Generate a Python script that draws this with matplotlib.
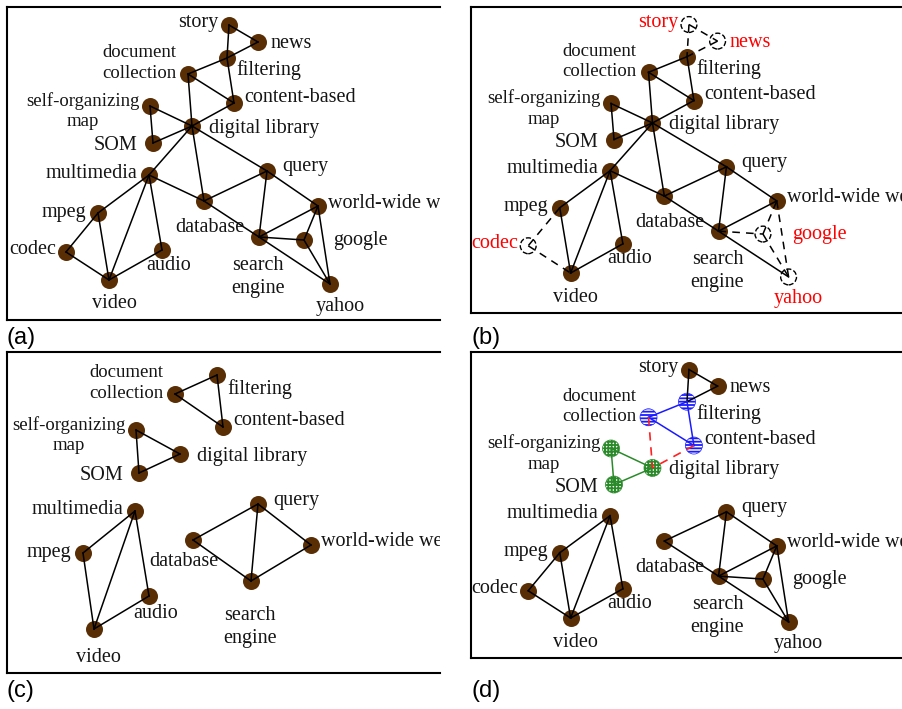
import matplotlib.pyplot as plt
from matplotlib.transforms import ScaledTranslation

W, H = 902, 709

# node layout used by panels (a), (b) and (d), pixels inside the frame
nodes = ['story', 'news', 'filtering', 'document collection', 'content-based',
         'self-organizing map', 'digital library', 'SOM', 'multimedia', 'query',
         'database', 'world-wide web', 'mpeg', 'search engine', 'google',
         'codec', 'audio', 'video', 'yahoo']
node_x = [222, 251, 220, 181, 227, 143, 185, 146, 142, 260, 197, 311, 91, 252, 297, 59, 155, 102, 323]
node_y = [18, 35, 51, 67, 96, 99, 119, 136, 168, 164, 194, 199, 206, 230, 233, 245, 243, 273, 277]

edges = [('story', 'news'), ('story', 'filtering'), ('news', 'filtering'),
         ('filtering', 'document collection'), ('filtering', 'content-based'),
         ('document collection', 'content-based'), ('document collection', 'digital library'),
         ('content-based', 'digital library'), ('self-organizing map', 'SOM'),
         ('self-organizing map', 'digital library'), ('SOM', 'digital library'),
         ('digital library', 'multimedia'), ('digital library', 'database'),
         ('digital library', 'query'), ('query', 'world-wide web'),
         ('multimedia', 'database'), ('database', 'search engine'), ('database', 'query'),
         ('query', 'search engine'), ('search engine', 'world-wide web'),
         ('search engine', 'google'), ('search engine', 'yahoo'), ('google', 'world-wide web'),
         ('google', 'yahoo'), ('world-wide web', 'yahoo'), ('multimedia', 'mpeg'),
         ('multimedia', 'video'), ('multimedia', 'audio'), ('mpeg', 'codec'),
         ('mpeg', 'video'), ('codec', 'video'), ('video', 'audio')]

# (b): removed nodes and their dashed edges
removed_b = ['story', 'news', 'codec', 'google', 'yahoo']
dashed_b = [('story', 'news'), ('story', 'filtering'), ('news', 'filtering'),
            ('mpeg', 'codec'), ('codec', 'video'), ('search engine', 'google'),
            ('google', 'world-wide web'), ('google', 'yahoo'), ('world-wide web', 'yahoo')]

# (c): separate layout
c_nodes = ['document collection', 'filtering', 'content-based', 'self-organizing map',
           'digital library', 'SOM', 'multimedia', 'query', 'database', 'world-wide web',
           'mpeg', 'search engine', 'audio', 'video']
c_x = [168, 210, 216, 129, 173, 132, 128, 251, 186, 304, 76, 244, 142, 87]
c_y = [42, 23, 75, 78, 102, 121, 159, 152, 188, 193, 201, 229, 244, 277]
c_edges = [('document collection', 'filtering'), ('document collection', 'content-based'),
           ('filtering', 'content-based'), ('self-organizing map', 'SOM'),
           ('self-organizing map', 'digital library'), ('SOM', 'digital library'),
           ('multimedia', 'mpeg'), ('multimedia', 'video'), ('multimedia', 'audio'),
           ('mpeg', 'video'), ('video', 'audio'), ('database', 'query'),
           ('database', 'search engine'), ('query', 'search engine'),
           ('query', 'world-wide web'), ('search engine', 'world-wide web')]

# (d): communities
blue_nodes = ['document collection', 'filtering', 'content-based']
green_nodes = ['self-organizing map', 'digital library', 'SOM']
blue_edges = [('filtering', 'document collection'), ('filtering', 'content-based'),
              ('document collection', 'content-based')]
green_edges = [('self-organizing map', 'SOM'), ('self-organizing map', 'digital library'),
               ('SOM', 'digital library')]
red_edges = [('document collection', 'digital library'), ('content-based', 'digital library')]
cut_d = [('digital library', 'multimedia'), ('digital library', 'database'),
         ('digital library', 'query'), ('multimedia', 'database')]

label_text = {'document collection': 'document\ncollection',
              'self-organizing map': 'self-organizing\nmap',
              'search engine': 'search\nengine'}
small = ['document collection', 'self-organizing map']

# label placement: dx, dy (pixels, y down), alignment
lab = {'story': (-11, -2, 'right'), 'news': (12, 1, 'left'), 'filtering': (9, 12, 'left'),
       'document collection': (-49, -11, 'center'), 'content-based': (10, -6, 'left'),
       'self-organizing map': (-67, 5, 'center'), 'digital library': (17, 2, 'left'),
       'SOM': (-16, 3, 'right'), 'multimedia': (-12, -2, 'right'), 'query': (15, -4, 'left'),
       'world-wide web': (10, -3, 'left'), 'mpeg': (-12, -1, 'right'),
       'database': (6, 26, 'center'), 'codec': (-10, -2, 'right'), 'google': (29, 0, 'left'),
       'audio': (7, 15, 'center'), 'search engine': (-1, 40, 'center'),
       'video': (5, 24, 'center'), 'yahoo': (10, 22, 'center')}
lab_c = dict(lab)
lab_c.update({'database': (-9, 22, 'center'), 'search engine': (-1, 46, 'center'),
              'video': (4, 29, 'center'), 'filtering': (10, 14, 'left'),
              'audio': (7, 17, 'center')})

BROWN = '#5a2e05'
NS = 150  # node marker area
plt.rcParams['hatch.linewidth'] = 1.3

fig = plt.figure(figsize=(W / 100, H / 100), dpi=100)


def panel(l, t, r, b, xlim, ylim):
    ax = fig.add_axes([l / W, 1 - b / H, (r - l) / W, (b - t) / H])
    ax.set_xlim(*xlim)
    ax.set_ylim(*ylim)
    ax.set_xticks([])
    ax.set_yticks([])
    for s in ['left', 'top', 'bottom']:
        ax.spines[s].set_linewidth(1.5)
    ax.spines['right'].set_visible(False)
    return ax


def draw_edges(ax, pos, elist, **kw):
    for u, v in elist:
        ax.plot([pos[u][0], pos[v][0]], [pos[u][1], pos[v][1]], zorder=3, **kw)


def draw_labels(ax, pos, names, offs, red=()):
    for n in names:
        dx, dy, ha = offs[n]
        tr = ax.transData + ScaledTranslation(dx / 100, -dy / 100, fig.dpi_scale_trans)
        ax.text(pos[n][0], pos[n][1], label_text.get(n, n), transform=tr, ha=ha,
                va='center', fontsize=13.5 if n in small else 14.5,
                family='Liberation Serif', color='red' if n in red else '#151515',
                linespacing=1.25, clip_on=True, zorder=5)


pos = {n: (x, y) for n, x, y in zip(nodes, node_x, node_y)}
cpos = {n: (x, y) for n, x, y in zip(c_nodes, c_x, c_y)}

# (a)
ax = panel(7, 7, 440, 320, (0, 433), (313, 0))
draw_edges(ax, pos, edges, color='black', lw=1.1)
ax.scatter(node_x, node_y, s=NS, color=BROWN, zorder=2, linewidths=0)
draw_labels(ax, pos, nodes, lab)

# (b)
ax = panel(471, 7, 903, 313, (1, 439), (314, 0))
draw_edges(ax, pos, [e for e in edges if e not in dashed_b], color='black', lw=1.1)
draw_edges(ax, pos, dashed_b, color='black', lw=1.1, ls=(0, (5, 4)))
keep = [n for n in nodes if n not in removed_b]
ax.scatter([pos[n][0] for n in keep], [pos[n][1] for n in keep], s=NS, color=BROWN,
           zorder=2, linewidths=0)
ax.scatter([pos[n][0] for n in removed_b], [pos[n][1] for n in removed_b], s=130,
           facecolors='none', edgecolors='black', linestyles='--', linewidths=1, zorder=4)
draw_labels(ax, pos, nodes, lab, red=removed_b)

# (c)
ax = panel(7, 352, 440, 673, (0, 433), (321, 0))
draw_edges(ax, cpos, c_edges, color='black', lw=1.1)
ax.scatter(c_x, c_y, s=NS, color=BROWN, zorder=2, linewidths=0)
draw_labels(ax, cpos, c_nodes, lab_c)

# (d)
ax = panel(471, 352, 903, 658, (1, 439), (314, 0))
black_d = [e for e in edges if e not in blue_edges + green_edges + red_edges + cut_d]
draw_edges(ax, pos, black_d, color='black', lw=1.1)
draw_edges(ax, pos, blue_edges, color='#1a1aff', lw=1.1)
draw_edges(ax, pos, green_edges, color='#2a8a2a', lw=1.1)
draw_edges(ax, pos, red_edges, color='#ff2020', lw=1.2, ls=(0, (5, 4)))
plain = [n for n in nodes if n not in blue_nodes + green_nodes]
ax.scatter([pos[n][0] for n in plain], [pos[n][1] for n in plain], s=NS, color=BROWN,
           zorder=2, linewidths=0)
ax.scatter([pos[n][0] for n in blue_nodes], [pos[n][1] for n in blue_nodes], s=NS,
           facecolor='white', edgecolor='#1a1aff', hatch='-----', linewidths=0.5, zorder=2)
ax.scatter([pos[n][0] for n in green_nodes], [pos[n][1] for n in green_nodes], s=NS,
           facecolor='white', edgecolor='#2a8a2a', hatch='+++++', linewidths=0.5, zorder=2)
draw_labels(ax, pos, nodes, lab)

# panel letters
for t, x, y in [('(a)', 7, 338), ('(b)', 471, 338), ('(c)', 7, 691), ('(d)', 471, 691)]:
    fig.text(x / W, 1 - y / H, t, ha='left', va='center', fontsize=17,
             family='Liberation Sans')

fig.savefig('out.png', dpi=100)
